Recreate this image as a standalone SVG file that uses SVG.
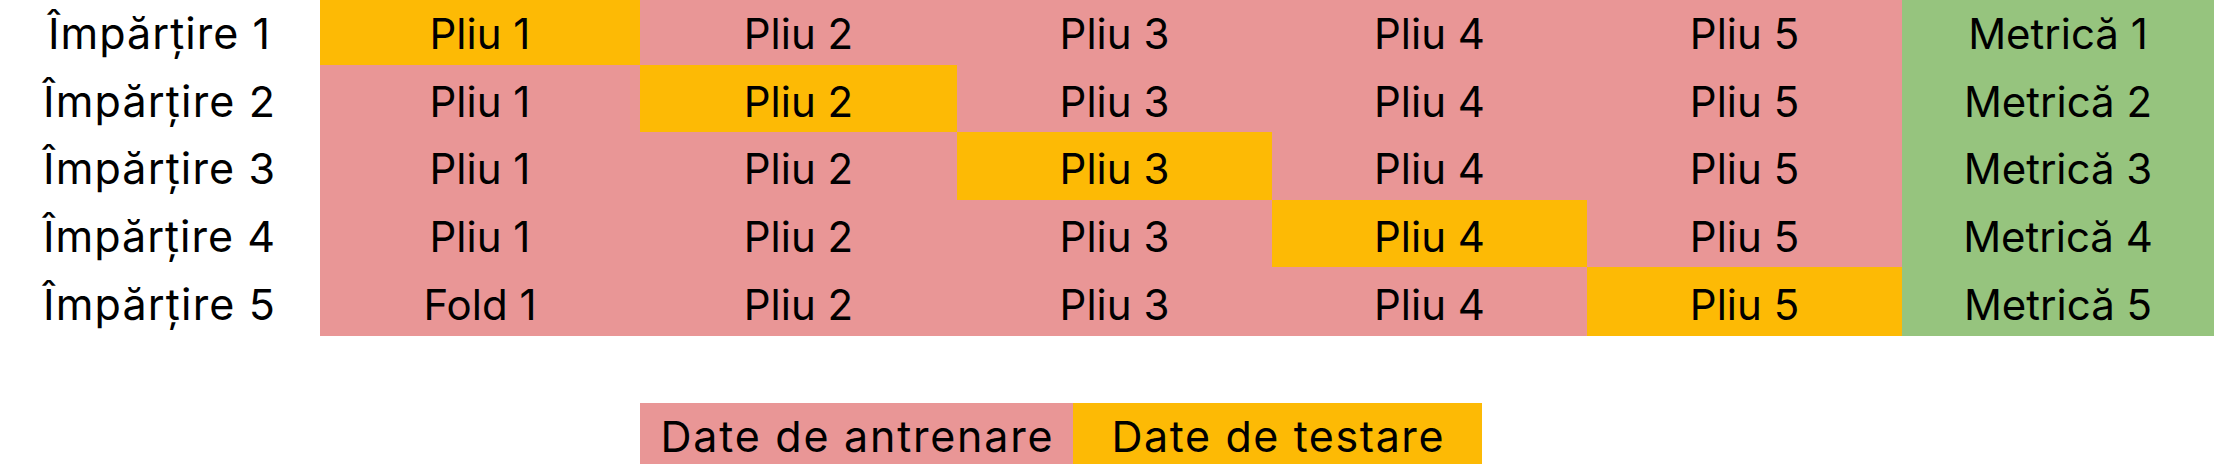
<svg xmlns="http://www.w3.org/2000/svg" width="2220" height="464" viewBox="0 0 2220 464">
<style>
.tr{fill:#E99696}
.te{fill:#FDBA05}
.me{fill:#96C47E}
text{font-family:Inter,"Noto Sans","Liberation Sans",sans-serif;font-size:42px;fill:#000;text-anchor:middle}
.lb{font-size:43px}
</style>
<rect width="2220" height="464" fill="#fff"/>
<g id="row1">
<text class="lb" x="159" y="49" textLength="222" lengthAdjust="spacing">Împărțire 1</text>
<rect class="te" x="320" y="-4" width="320" height="69"/>
<rect class="tr" x="640" y="-4" width="1262" height="69"/>
<rect class="me" x="1902" y="-4" width="312" height="69"/>
<text x="480" y="49">Pliu 1</text><text x="798.5" y="49">Pliu 2</text><text x="1114.5" y="49">Pliu 3</text><text x="1429.5" y="49">Pliu 4</text><text x="1744.5" y="49">Pliu 5</text><text x="2058" y="49">Metrică 1</text>
</g>
<g id="row2">
<text class="lb" x="159" y="117" textLength="232" lengthAdjust="spacing">Împărțire 2</text>
<rect class="tr" x="320" y="65" width="320" height="67"/>
<rect class="te" x="640" y="65" width="317" height="67"/>
<rect class="tr" x="957" y="65" width="945" height="67"/>
<rect class="me" x="1902" y="65" width="312" height="67"/>
<text x="480" y="117">Pliu 1</text><text x="798.5" y="117">Pliu 2</text><text x="1114.5" y="117">Pliu 3</text><text x="1429.5" y="117">Pliu 4</text><text x="1744.5" y="117">Pliu 5</text><text x="2058" y="117">Metrică 2</text>
</g>
<g id="row3">
<text class="lb" x="159" y="184" textLength="232" lengthAdjust="spacing">Împărțire 3</text>
<rect class="tr" x="320" y="132" width="637" height="68"/>
<rect class="te" x="957" y="132" width="315" height="68"/>
<rect class="tr" x="1272" y="132" width="630" height="68"/>
<rect class="me" x="1902" y="132" width="312" height="68"/>
<text x="480" y="184">Pliu 1</text><text x="798.5" y="184">Pliu 2</text><text x="1114.5" y="184">Pliu 3</text><text x="1429.5" y="184">Pliu 4</text><text x="1744.5" y="184">Pliu 5</text><text x="2058" y="184">Metrică 3</text>
</g>
<g id="row4">
<text class="lb" x="159" y="252" textLength="232" lengthAdjust="spacing">Împărțire 4</text>
<rect class="tr" x="320" y="200" width="952" height="67"/>
<rect class="te" x="1272" y="200" width="315" height="67"/>
<rect class="tr" x="1587" y="200" width="315" height="67"/>
<rect class="me" x="1902" y="200" width="312" height="67"/>
<text x="480" y="252">Pliu 1</text><text x="798.5" y="252">Pliu 2</text><text x="1114.5" y="252">Pliu 3</text><text x="1429.5" y="252">Pliu 4</text><text x="1744.5" y="252">Pliu 5</text><text x="2058" y="252">Metrică 4</text>
</g>
<g id="row5">
<text class="lb" x="159" y="320" textLength="232" lengthAdjust="spacing">Împărțire 5</text>
<rect class="tr" x="320" y="267" width="1267" height="69"/>
<rect class="te" x="1587" y="267" width="315" height="69"/>
<rect class="me" x="1902" y="267" width="312" height="69"/>
<text x="480" y="320">Fold 1</text><text x="798.5" y="320">Pliu 2</text><text x="1114.5" y="320">Pliu 3</text><text x="1429.5" y="320">Pliu 4</text><text x="1744.5" y="320">Pliu 5</text><text x="2058" y="320">Metrică 5</text>
</g>
<g id="legend">
<rect class="tr" x="640" y="403" width="433" height="61"/>
<rect class="te" x="1073" y="403" width="409" height="61"/>
<text class="lb" x="856.5" y="452" textLength="392" lengthAdjust="spacing">Date de antrenare</text>
<text class="lb" x="1277.5" y="452" textLength="332" lengthAdjust="spacing">Date de testare</text>
</g>
<g id="connectors"/>
</svg>
